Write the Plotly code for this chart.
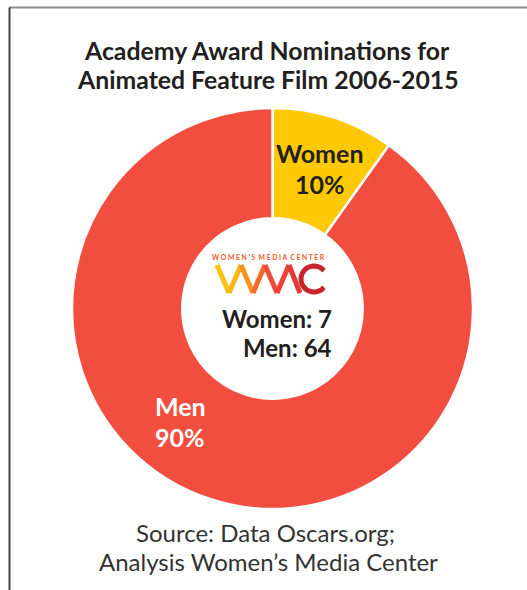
import math

import plotly.graph_objects as go

W, H = 527, 590

labels = ["Women", "Men"]
counts = [7, 64]
colors = ["#FFCA05", "#F24E3F"]

title_lines = ["Academy Award Nominations for", "Animated Feature Film 2006-2015"]
source_lines = ["Source: Data Oscars.org;", "Analysis Women’s Media Center"]

FONT = "Lato"


def px(x, y):
    """Pixel position -> paper coordinates."""
    return x / W, 1 - y / H


def path_from(points):
    pts = [px(x, y) for x, y in points]
    return "M " + " L ".join(f"{a:.5f},{b:.5f}" for a, b in pts)


def text(x, y, s, size, color, bold=True, xanchor="center", family=FONT):
    xp, yp = px(x, y)
    return dict(
        x=xp, y=yp, xref="paper", yref="paper", text=s, showarrow=False,
        xanchor=xanchor, yanchor="middle",
        font=dict(family=family, size=size, color=color,
                  weight="bold" if bold else "normal"),
    )


total = sum(counts)
pcts = [round(100 * c / total) for c in counts]

fig = go.Figure()
x0, y0 = px(72, 509)
x1, y1 = px(473, 108)
fig.add_trace(go.Pie(
    labels=labels,
    values=counts,
    hole=0.45,
    sort=False,
    direction="clockwise",
    rotation=0,
    marker=dict(colors=colors, line=dict(color="white", width=2.5)),
    textinfo="none",
    hoverinfo="label+value+percent",
    showlegend=False,
    domain=dict(x=[x0, x1], y=[y0, y1]),
))

annotations = []
# title + source
annotations.append(text(267, 51, title_lines[0], 24.8, "#231F20"))
annotations.append(text(268, 80, title_lines[1], 24.8, "#231F20"))
annotations.append(text(265, 532, source_lines[0], 24, "#333333", bold=False))
annotations.append(text(268, 561, source_lines[1], 24, "#333333", bold=False))

# slice labels
annotations.append(text(320, 153, labels[0], 25, "#231F20"))
annotations.append(text(320, 184, f"{pcts[0]}%", 25, "#231F20"))
annotations.append(text(180, 406, labels[1], 25, "white"))
annotations.append(text(180, 437, f"{pcts[1]}%", 25, "white"))

# centre counts
annotations.append(text(334, 318, f"{labels[0]}: {counts[0]}", 24, "#231F20", xanchor="right"))
annotations.append(text(334, 347, f"{labels[1]}: {counts[1]}", 24, "#231F20", xanchor="right"))

# logo wordmark
annotations.append(text(269, 257, "W O M E N ’ S  M E D I A  C E N T E R", 6.8, "#F05A28"))

shapes = []
# frame lines
tx, ty = px(9, 7.5)
shapes.append(dict(type="line", xref="paper", yref="paper", x0=tx, y0=ty, x1=1, y1=ty,
                   line=dict(color="#8A8A8A", width=2)))
lx, ly = px(9.5, 590)
shapes.append(dict(type="line", xref="paper", yref="paper", x0=lx, y0=ty, x1=lx, y1=0,
                   line=dict(color="#444444", width=2)))

# logo zigzag (W + M)
zig = [(217, 265), (229, 293), (241, 265), (253, 293), (265, 265), (277, 293), (289, 265), (300, 293)]
zig_cols = ["#FFC20E", "#FDB515", "#F7941D", "#F26B2B", "#EF4B3A", "#EC4136", "#E13A34"]
for i, c in enumerate(zig_cols):
    shapes.append(dict(type="path", xref="paper", yref="paper",
                       path=path_from([zig[i], zig[i + 1]]),
                       line=dict(color=c, width=5)))
# logo C
cx, cy, r = 314, 279, 13
arc = [(cx + r * math.cos(math.radians(a)), cy - r * math.sin(math.radians(a)))
       for a in range(40, 325, 10)]
shapes.append(dict(type="path", xref="paper", yref="paper", path=path_from(arc),
                   line=dict(color="#C8242B", width=5)))

fig.update_layout(
    width=W,
    height=H,
    margin=dict(l=0, r=0, t=0, b=0),
    paper_bgcolor="white",
    plot_bgcolor="white",
    annotations=annotations,
    shapes=shapes,
)

fig.write_html("out.html", config={"displayModeBar": False},
               post_script="document.body.style.margin='0';")
